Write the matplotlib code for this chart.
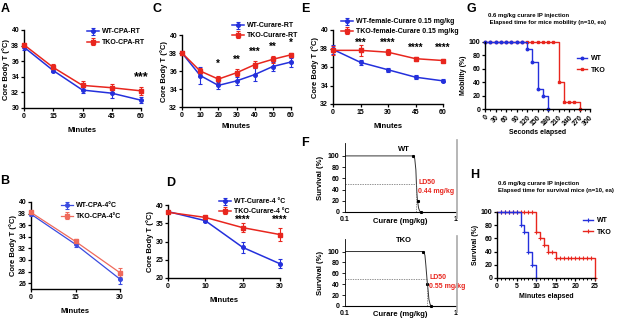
import numpy as np
import matplotlib
matplotlib.use('Agg')
import matplotlib.pyplot as plt
from matplotlib.lines import Line2D
from matplotlib.ticker import MultipleLocator

plt.rcParams['font.family'] = ['Liberation Sans', 'DejaVu Sans']
plt.rcParams['font.weight'] = 'bold'
plt.rcParams['axes.labelweight'] = 'bold'
plt.rcParams['font.size'] = 5

BLUE = '#2430dc'
RED = '#e8261e'
W, H = 617, 319

# ---- data ----
a_t = [0, 15, 30, 45, 60]
a_wt = [37.8, 34.8, 32.3, 31.9, 31.0]
a_wt_err = [0.3, 0.2, 0.4, 0.6, 0.4]
a_tko = [38.1, 35.2, 32.9, 32.6, 32.2]
a_tko_err = [0.2, 0.5, 0.6, 0.5, 0.5]

b_t = [0, 15, 30]
b_wt = [37.9, 32.7, 26.7]
b_wt_err = [0.3, 0.4, 0.8]
b_tko = [38.2, 33.2, 27.8]
b_tko_err = [0.2, 0.4, 0.8]

c_t = [0, 10, 20, 30, 40, 50, 60]
c_wt = [38.0, 35.5, 34.4, 34.9, 35.6, 36.5, 37.0]
c_wt_err = [0.2, 0.9, 0.4, 0.4, 0.7, 0.5, 0.5]
c_tko = [38.0, 36.0, 35.1, 35.8, 36.7, 37.3, 37.8]
c_tko_err = [0.2, 0.3, 0.4, 0.4, 0.4, 0.4, 0.2]
c_stars = ['*', '**', '***', '**', '*']
c_star_t = [20, 30, 40, 50, 60]
c_star_y = [36.8, 37.2, 38.1, 38.7, 39.1]

d_t = [0, 10, 20, 30]
d_wt = [38.2, 35.7, 28.4, 23.9]
d_wt_err = [0.3, 0.3, 1.5, 1.2]
d_tko = [38.0, 36.6, 33.8, 31.9]
d_tko_err = [0.3, 0.3, 1.3, 1.7]

e_t = [0, 15, 30, 45, 60]
e_wt = [37.9, 36.5, 35.7, 34.9, 34.5]
e_wt_err = [0.5, 0.25, 0.2, 0.2, 0.15]
e_tko = [37.8, 37.8, 37.6, 36.9, 36.7]
e_tko_err = [0.5, 0.6, 0.3, 0.2, 0.2]
e_stars = ['***', '****', '****', '****']
e_star_t = [15, 30, 45, 60]
e_star_y = [38.6, 38.6, 38.1, 38.1]

f_wt_curve_x = [0.1, 0.40, 0.415, 0.425, 0.435, 0.44, 0.445, 0.45, 0.46, 0.47, 0.48]
f_wt_curve_y = [100, 100, 99, 95, 75, 50, 32, 20, 7, 2, 0]
f_wt_pts_x = [0.41, 0.45, 0.48]
f_wt_pts_y = [100, 20, 0]
f_tko_curve_x = [0.1, 0.50, 0.515, 0.525, 0.535, 0.545, 0.55, 0.56, 0.57, 0.585, 0.60]
f_tko_curve_y = [100, 100, 98, 93, 75, 55, 45, 30, 12, 3, 0]
f_tko_pts_x = [0.50, 0.55, 0.60]
f_tko_pts_y = [100, 40, 0]

g_wt_t = [0, 15, 30, 45, 60, 75, 90, 105, 120, 135, 150, 165, 180]
g_wt = [100, 100, 100, 100, 100, 100, 100, 100, 90, 70, 30, 20, 0]
g_tko_t = [0, 15, 30, 45, 60, 75, 90, 105, 120, 135, 150, 165, 180, 195,
           210, 225, 240, 255, 270]
g_tko = [100, 100, 100, 100, 100, 100, 100, 100, 100, 100, 100, 100, 100, 100,
         40, 10, 10, 10, 0]

h_wt_t = [0, 1, 2, 3, 4, 5, 6, 7, 8, 9, 10]
h_wt = [100, 100, 100, 100, 100, 100, 80, 70, 40, 20, 0]
h_tko_t = [0, 1, 2, 3, 4, 5, 6, 7, 8, 9, 10, 11, 12, 13, 14, 15, 16, 17, 18,
           19, 20, 21, 22, 23, 24, 25]
h_tko = [100, 100, 100, 100, 100, 100, 100, 100, 100, 100, 70, 60, 50, 40, 40,
         30, 30, 30, 30, 30, 30, 30, 30, 30, 30, 0]

fig = plt.figure(figsize=(W / 100, H / 100), dpi=100)


def fx(px): return px / W
def fy(py): return 1 - py / H


def box(l, t, r, b):
    return fig.add_axes([fx(l), fy(b), (r - l) / W, (b - t) / H])


def prism(ax):
    for s in ['top', 'right']:
        ax.spines[s].set_visible(False)
    for s in ['left', 'bottom']:
        ax.spines[s].set_linewidth(1.0)
    ax.tick_params(length=2.5, width=0.9, pad=1, labelsize=5)
    ax.tick_params(which='minor', length=1.5, width=0.7)


def tplot(ax, t, y, e, col, mk, lab, lw=1.1):
    ax.errorbar(t, y, yerr=e, color=col, marker=mk, ms=2.6, lw=lw,
                elinewidth=0.8, capsize=1.5, capthick=0.8, label=lab,
                clip_on=False, zorder=3)


def leg(ax, x, y, sp=0.5):
    ax.legend(loc='upper left', bbox_to_anchor=(fx(x), fy(y)),
              bbox_transform=fig.transFigure, frameon=False, fontsize=5,
              borderpad=0, handlelength=1.6, handletextpad=0.5,
              labelspacing=sp)


YL = 'Core Body T (°C)'

# A
ax = box(24, 30, 141, 108)
prism(ax)
tplot(ax, a_t, a_wt, a_wt_err, BLUE, 'o', 'WT-CPA-RT')
tplot(ax, a_t, a_tko, a_tko_err, RED, 's', 'TKO-CPA-RT')
ax.set_xlim(0, 60); ax.set_ylim(30, 40)
ax.set_xticks(a_t); ax.set_yticks(range(30, 41, 2))
ax.set_xlabel('Minutes', labelpad=5, fontsize=5.5); ax.set_ylabel(YL, labelpad=1, fontsize=5.5)
ax.text(60, 34.0, '***', ha='center', va='center', fontsize=9)
leg(ax, 84, 25)

# B
ax = box(31, 202, 120, 289)
prism(ax)
tplot(ax, b_t, b_wt, b_wt_err, '#3a4be0', 'o', 'WT-CPA-4°C', lw=0.9)
tplot(ax, b_t, b_tko, b_tko_err, '#ef6a5c', 's', 'TKO-CPA-4°C', lw=0.9)
ax.set_xlim(0, 30); ax.set_ylim(25, 40)
ax.set_xticks(b_t); ax.set_yticks(range(26, 41, 2))
ax.set_xlabel('Minutes', labelpad=5, fontsize=5.5); ax.set_ylabel(YL, labelpad=1, fontsize=5.5)
leg(ax, 58, 199)

# C
ax = box(182, 35, 291, 107)
prism(ax)
tplot(ax, c_t, c_wt, c_wt_err, BLUE, 'o', 'WT-Curare-RT')
tplot(ax, c_t, c_tko, c_tko_err, RED, 's', 'TKO-Curare-RT')
ax.set_xlim(0, 60); ax.set_ylim(32, 40)
ax.set_xticks(c_t); ax.set_yticks(range(32, 41, 2))
ax.set_xlabel('Minutes', labelpad=3, fontsize=5.5); ax.set_ylabel(YL, labelpad=1, fontsize=5.5)
for s, t, y in zip(c_stars, c_star_t, c_star_y):
    ax.text(t, y, s, ha='center', va='center', fontsize=7)
leg(ax, 229, 19, sp=0.4)

# D
ax = box(168, 205, 280, 278)
prism(ax)
tplot(ax, d_t, d_wt, d_wt_err, BLUE, 'o', 'WT-Curare-4 °C')
tplot(ax, d_t, d_tko, d_tko_err, RED, 's', 'TKO-Curare-4 °C')
ax.set_xlim(0, 30); ax.set_ylim(20, 40)
ax.set_xticks(d_t); ax.set_yticks(range(20, 41, 5))
ax.set_xlabel('Minutes', labelpad=5, fontsize=5.5); ax.set_ylabel(YL, labelpad=1, fontsize=5.5)
for t in [20, 30]:
    ax.text(t, 36.0, '****', ha='center', va='center', fontsize=7)
leg(ax, 216, 195, sp=0.4)

# E
ax = box(333, 30, 443, 104)
prism(ax)
tplot(ax, e_t, e_wt, e_wt_err, BLUE, 'o', 'WT-female-Curare 0.15 mg/kg')
tplot(ax, e_t, e_tko, e_tko_err, RED, 's', 'TKO-female-Curare 0.15 mg/kg')
ax.set_xlim(0, 60); ax.set_ylim(32, 40)
ax.set_xticks(e_t); ax.set_yticks(range(32, 41, 2))
ax.set_xlabel('Minutes', labelpad=5, fontsize=5.5); ax.set_ylabel(YL, labelpad=1, fontsize=5.5)
for s, t, y in zip(e_stars, e_star_t, e_star_y):
    ax.text(t, y, s, ha='center', va='center', fontsize=7)
leg(ax, 338, 15, sp=0.4)


# F
def fpanel(t, b, cx, cy, px, py, ld, title, ty, ly):
    ax = box(345, t, 456, b)
    for s in ['top', 'right']:
        ax.spines[s].set_visible(False)
    ax.spines['left'].set_linewidth(0.6)
    ax.spines['bottom'].set_linewidth(0.8)
    ax.set_xscale('log')
    ax.set_xlim(0.1, 1); ax.set_ylim(0, 123)
    ax.set_yticks(range(0, 101, 20))
    ax.set_xticks([0.1, 1]); ax.set_xticklabels(['0.1', '1'])
    ax.xaxis.set_minor_locator(plt.NullLocator())
    ax.tick_params(axis='x', length=0, pad=3, labelsize=5)
    ax.tick_params(axis='y', length=2, width=0.6, pad=2, labelsize=5)
    ax.plot(cx, cy, color='#333333', lw=0.7)
    ax.plot(px, py, 's', color='black', ms=1.2, clip_on=False)
    ax.plot([0.1, ld], [50, 50], ls=(0, (2, 1.5)), color='#666666', lw=0.5)
    ax.plot([ld, ld], [0, 50], ls=(0, (2, 1.5)), color='#666666', lw=0.5)
    ax.set_ylabel('Survival (%)', fontsize=5.5, labelpad=3)
    ax.text(0.5, ly, 'Curare (mg/kg)', transform=ax.transAxes,
            ha='center', va='center', fontsize=5.5)
    ax.text(0.53, ty, title, transform=ax.transAxes, ha='center',
            va='center', fontsize=5.5)
    ax.text(ld * 1.04, 44, 'LD50\n%.2f mg/kg' % ld, color=RED, fontsize=5,
            ha='left', va='center', linespacing=1.4)
    return ax


fpanel(143, 212, f_wt_curve_x, f_wt_curve_y, f_wt_pts_x, f_wt_pts_y, 0.44,
       'WT', 0.9, -0.14)
fpanel(239, 306, f_tko_curve_x, f_tko_curve_y, f_tko_pts_x, f_tko_pts_y, 0.55,
       'TKO', 0.98, -0.12)
for y0, y1 in [(140, 218), (236, 312)]:
    fig.add_artist(Line2D([fx(457), fx(457)], [fy(y0), fy(y1)],
                          color='#aaaaaa', lw=1.2))

# G
ax = box(485, 42, 590, 109)
prism(ax)
ax.plot(g_tko_t, g_tko, drawstyle='steps-post', color=RED, lw=1.0,
        marker='s', ms=1.8, clip_on=False, label='TKO')
ax.plot(g_wt_t, g_wt, drawstyle='steps-post', color=BLUE, lw=1.0,
        marker='o', ms=1.8, clip_on=False, label='WT')
ax.set_xlim(0, 300); ax.set_ylim(0, 100)
ax.set_xticks(range(0, 301, 30)); ax.xaxis.set_minor_locator(MultipleLocator(15))
ax.set_yticks(range(0, 101, 20))
plt.setp(ax.get_xticklabels(), rotation=45, ha='right', rotation_mode='anchor')
ax.set_xlabel('Seconds elapsed', labelpad=1, fontsize=5)
ax.set_ylabel('Mobility (%)', labelpad=1, fontsize=5)
ax.text(0.03, 1.35, '0.6 mg/kg curare IP injection\n Elapsed time for mice mobility (n=10, ea)',
        transform=ax.transAxes, ha='left', va='center', fontsize=4.3, linespacing=1.5)
h, l = ax.get_legend_handles_labels()
ax.legend(h[::-1], l[::-1], loc='upper left', bbox_to_anchor=(fx(574), fy(52)),
          bbox_transform=fig.transFigure, frameon=False, fontsize=5,
          borderpad=0, handlelength=1.4, handletextpad=0.6, labelspacing=0.6)

# H
ax = box(497, 212, 595, 278)
prism(ax)
ax.plot(h_tko_t, h_tko, drawstyle='steps-post', color=RED, lw=1.0,
        marker='+', ms=2.2, mew=0.8, markevery=list(range(1, len(h_tko_t))),
        clip_on=False, label='TKO')
ax.plot(h_wt_t, h_wt, drawstyle='steps-post', color=BLUE, lw=1.0,
        marker='+', ms=2.2, mew=0.8, markevery=list(range(1, len(h_wt_t))),
        clip_on=False, label='WT')
ax.set_xlim(0, 25); ax.set_ylim(0, 100)
ax.set_xticks(range(0, 26, 5)); ax.xaxis.set_minor_locator(MultipleLocator(1))
ax.set_yticks(range(0, 101, 20))
ax.set_xlabel('Minutes elapsed', labelpad=2, fontsize=5)
ax.set_ylabel('Survival (%)', labelpad=1, fontsize=5)
ax.text(0.01, 1.38, '0.6 mg/kg curare IP injection\nElapsed time for survival mice (n=10, ea)',
        transform=ax.transAxes, ha='left', va='center', fontsize=4.3, linespacing=1.5)
h, l = ax.get_legend_handles_labels()
ax.legend(h[::-1], l[::-1], loc='upper left', bbox_to_anchor=(fx(580), fy(214)),
          bbox_transform=fig.transFigure, frameon=False, fontsize=5,
          borderpad=0, handlelength=1.4, handletextpad=0.6, labelspacing=0.6)

# panel letters
for s, x, y in [('A', 5, 9), ('B', 5, 181), ('C', 157, 9), ('D', 171, 183),
                ('E', 305, 9), ('F', 305, 143), ('G', 471, 9), ('H', 475, 175)]:
    fig.text(fx(x), fy(y), s, fontsize=9, ha='center', va='center')

fig.savefig('out.png', dpi=100)
